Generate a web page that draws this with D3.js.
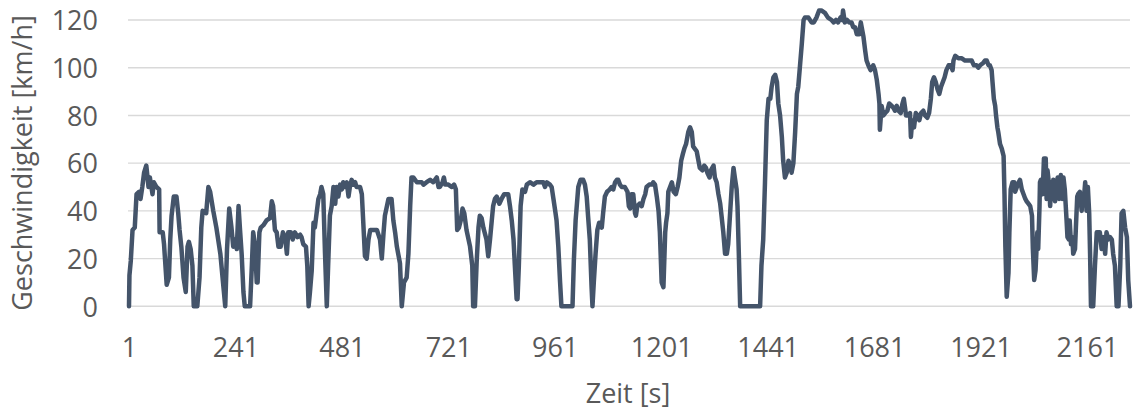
<!DOCTYPE html>
<html><head><meta charset="utf-8">
<script src="https://cdn.jsdelivr.net/npm/d3@7"></script>
<style>html,body{margin:0;padding:0;background:#fff;}svg{display:block;}</style>
</head><body>
<svg id="chart" width="1135" height="411"></svg>
<script>
const xTicks = [1,241,481,721,961,1201,1441,1681,1921,2161];
const yTicks = [0,20,40,60,80,100,120];
const xTitle = "Zeit [s]";
const yTitle = "Geschwindigkeit [km/h]";
// [time s, speed km/h]
const speedProfile = [[1,0],[2,13],[5,19],[9,32],[14,33],[18,47],[24,48],[27,45],[31,50],[35,56],[40,59],[45,50],[48,54],[54,47],[57,52],[63,50],[69,49],[70,31],[77,31],[80,26],[86,9],[91,12],[94,28],[97,38],[102,46],[108,46],[112,39],[115,32],[119,25],[124,12],[129,6],[133,25],[136,27],[140,24],[144,17],[147,0],[155,0],[160,12],[164,33],[167,40],[175,39],[180,50],[184,48],[191,40],[198,33],[207,22],[214,8],[218,0],[222,24],[227,41],[232,33],[236,25],[240,28],[244,24],[248,42],[251,33],[255,22],[259,6],[262,0],[274,0],[278,17],[281,31],[285,26],[289,10],[291,10],[295,31],[298,33],[304,34],[311,36],[319,37],[323,44],[326,42],[330,32],[334,31],[338,25],[343,25],[348,31],[353,29],[357,22],[360,31],[366,31],[370,28],[375,31],[381,29],[387,30],[390,29],[394,26],[400,25],[403,17],[406,0],[409,6],[413,15],[417,35],[420,33],[424,39],[428,45],[432,47],[435,50],[439,47],[443,22],[447,0],[450,17],[454,38],[458,42],[462,50],[466,43],[469,50],[473,46],[477,51],[481,49],[484,52],[488,50],[492,52],[496,46],[499,50],[503,53],[507,51],[511,52],[514,50],[522,50],[526,47],[529,36],[533,21],[537,20],[541,28],[545,32],[552,32],[560,32],[567,28],[571,20],[575,31],[578,38],[586,45],[593,45],[597,36],[601,31],[605,25],[608,22],[612,18],[616,0],[621,10],[627,12],[631,22],[635,42],[638,54],[642,54],[650,52],[657,52],[661,52],[665,51],[672,52],[680,53],[687,52],[695,54],[699,50],[702,50],[708,52],[711,54],[714,51],[721,51],[729,50],[734,51],[738,49],[741,32],[745,33],[749,36],[753,41],[757,39],[762,32],[770,25],[775,17],[777,0],[781,0],[785,19],[789,33],[792,38],[796,37],[800,33],[807,28],[811,21],[815,28],[819,36],[822,42],[826,45],[830,46],[836,43],[841,45],[847,47],[853,47],[856,47],[860,42],[864,36],[868,28],[871,17],[875,3],[877,3],[880,17],[884,42],[888,49],[894,48],[898,51],[905,52],[913,51],[920,52],[928,52],[935,52],[939,50],[943,52],[950,51],[954,50],[958,45],[962,40],[965,36],[969,25],[973,10],[976,0],[1001,0],[1004,19],[1008,36],[1014,50],[1019,53],[1025,53],[1029,51],[1033,46],[1036,38],[1040,28],[1044,8],[1046,0],[1049,10],[1053,22],[1057,32],[1061,35],[1067,33],[1070,39],[1074,46],[1079,48],[1085,49],[1089,50],[1093,49],[1097,52],[1101,53],[1104,53],[1108,51],[1112,50],[1119,50],[1125,48],[1128,42],[1131,41],[1134,47],[1138,47],[1142,39],[1144,38],[1147,42],[1152,43],[1157,42],[1161,45],[1165,47],[1168,50],[1174,51],[1180,51],[1183,52],[1187,51],[1191,46],[1195,40],[1198,31],[1202,10],[1206,8],[1210,31],[1212,35],[1215,39],[1217,48],[1221,50],[1225,52],[1229,48],[1234,47],[1238,50],[1242,54],[1246,61],[1250,64],[1253,66],[1257,68],[1262,73],[1266,75],[1270,73],[1273,67],[1277,66],[1281,65],[1285,61],[1288,58],[1294,57],[1298,59],[1302,58],[1305,56],[1310,54],[1313,57],[1319,59],[1322,54],[1326,52],[1330,47],[1334,43],[1337,38],[1341,31],[1345,22],[1349,22],[1352,26],[1356,38],[1360,50],[1364,58],[1367,54],[1371,49],[1373,42],[1376,22],[1379,0],[1424,0],[1427,17],[1431,28],[1435,52],[1439,78],[1443,87],[1447,87],[1450,92],[1454,96],[1458,97],[1462,94],[1465,85],[1469,80],[1473,71],[1476,61],[1480,54],[1484,56],[1488,61],[1492,59],[1495,56],[1499,60],[1503,73],[1507,89],[1510,92],[1514,101],[1518,110],[1522,120],[1525,121],[1533,121],[1540,119],[1545,119],[1551,121],[1557,124],[1562,124],[1570,123],[1577,121],[1585,120],[1590,119],[1595,120],[1600,119],[1605,121],[1609,120],[1611,124],[1615,119],[1620,120],[1625,119],[1630,119],[1634,117],[1638,117],[1642,114],[1647,114],[1651,119],[1653,117],[1657,113],[1661,107],[1664,103],[1668,101],[1673,99],[1679,101],[1683,99],[1687,95],[1691,89],[1693,85],[1694,74],[1698,84],[1702,80],[1706,81],[1711,82],[1715,85],[1721,84],[1725,83],[1728,82],[1732,84],[1736,82],[1741,81],[1745,85],[1748,87],[1751,83],[1753,80],[1758,80],[1762,81],[1764,71],[1767,78],[1771,75],[1775,81],[1779,80],[1783,78],[1787,81],[1792,82],[1796,80],[1801,79],[1805,81],[1809,87],[1812,94],[1816,96],[1820,94],[1824,91],[1828,89],[1832,92],[1836,94],[1840,96],[1844,99],[1849,101],[1854,101],[1858,99],[1860,103],[1864,105],[1871,104],[1878,104],[1886,103],[1893,103],[1901,103],[1906,101],[1912,101],[1916,100],[1920,101],[1927,102],[1931,103],[1935,103],[1939,101],[1942,101],[1946,99],[1948,94],[1951,87],[1954,84],[1956,80],[1959,75],[1961,73],[1965,68],[1969,66],[1973,63],[1975,47],[1977,25],[1980,4],[1984,14],[1986,31],[1989,49],[1993,52],[1997,52],[1999,48],[2003,50],[2007,52],[2010,53],[2014,49],[2018,47],[2022,45],[2025,44],[2029,43],[2033,42],[2037,38],[2039,24],[2042,11],[2045,15],[2049,31],[2051,24],[2054,42],[2055,52],[2057,53],[2061,47],[2064,62],[2066,54],[2068,62],[2070,45],[2072,57],[2076,50],[2078,42],[2080,52],[2083,45],[2085,53],[2089,44],[2091,50],[2095,54],[2098,45],[2100,50],[2102,55],[2105,45],[2108,54],[2111,49],[2115,36],[2117,29],[2120,28],[2122,36],[2125,26],[2128,29],[2130,22],[2134,24],[2136,33],[2139,46],[2141,47],[2145,48],[2149,40],[2151,47],[2154,45],[2157,52],[2160,40],[2163,50],[2166,39],[2168,22],[2170,0],[2175,0],[2179,17],[2183,31],[2187,31],[2190,31],[2194,24],[2198,29],[2202,22],[2205,31],[2209,28],[2213,29],[2217,28],[2220,22],[2224,17],[2228,0],[2232,0],[2236,17],[2239,39],[2243,40],[2247,33],[2251,29],[2254,11],[2258,0]];

const svg = d3.select("#chart");
const FONT = "'Open Sans', 'Liberation Sans', sans-serif";
const TXT = "#595959";
const x = d3.scaleLinear().domain([1, 2258]).range([129, 1130]);
const y = d3.scaleLinear().domain([0, 120]).range([306.3, 20]);

// gridlines
svg.append("g").selectAll("line").data(yTicks).join("line")
  .attr("x1", 128).attr("x2", 1130)
  .attr("y1", d => y(d)).attr("y2", d => y(d))
  .attr("stroke", "#d9d9d9").attr("stroke-width", 1.4);

// y axis labels
const yAxis = d3.axisLeft(y).tickValues(yTicks).tickSize(0).tickPadding(0);
const gy = svg.append("g").attr("transform", "translate(98,0)").call(yAxis);
gy.select(".domain").remove();
gy.selectAll("text").attr("fill", TXT).style("font-family", FONT).style("font-size", "27px").attr("dy", "0.36em");

// x axis labels
const xAxis = d3.axisBottom(x).tickValues(xTicks).tickSize(0).tickPadding(0).tickFormat(d3.format("d"));
const gx = svg.append("g").attr("transform", "translate(0,357)").call(xAxis);
gx.select(".domain").remove();
gx.selectAll("text").attr("fill", TXT).style("font-family", FONT).style("font-size", "27px").attr("dy", "0").attr("y", 0);

// line
const line = d3.line().x(d => x(d[0])).y(d => y(d[1]));
svg.append("path").datum(speedProfile)
  .attr("d", line).attr("fill", "none")
  .attr("stroke", "#44546a").attr("stroke-width", 4.5)
  .attr("stroke-linejoin", "round").attr("stroke-linecap", "round");

// titles
svg.append("text").text(xTitle)
  .attr("x", 628).attr("y", 403).attr("text-anchor", "middle")
  .attr("fill", TXT).style("font-family", FONT).style("font-size", "27px");
svg.append("text").text(yTitle)
  .attr("transform", "translate(32,163) rotate(-90)").attr("text-anchor", "middle")
  .attr("fill", TXT).style("font-family", FONT).style("font-size", "27px");
</script>
</body></html>
